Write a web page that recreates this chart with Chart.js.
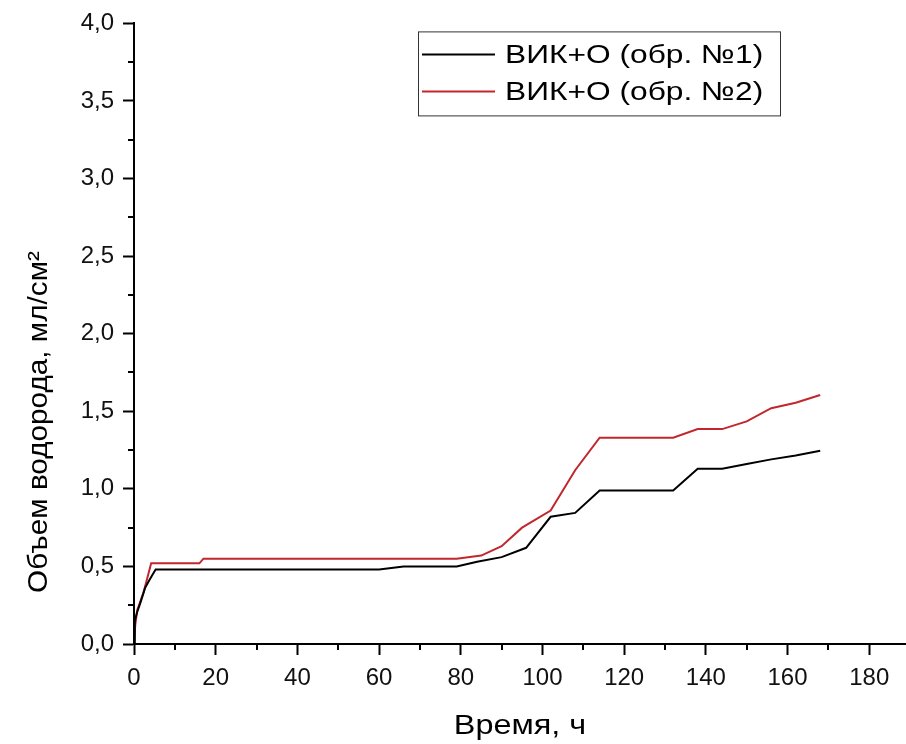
<!DOCTYPE html>
<html>
<head>
<meta charset="utf-8">
<script src="https://cdn.jsdelivr.net/npm/chart.js@4.4.1/dist/chart.umd.min.js"></script>
<style>
  html, body { margin: 0; padding: 0; background: #fff; }
  #wrap { width: 906px; height: 744px; }
</style>
</head>
<body>
<div id="wrap"><canvas id="chart"></canvas></div>
<script>
// sample 1 (black)
const time1 = [0, 0.2, 0.7, 1.5, 2.7, 3.5, 4.6, 5.3, 60, 66, 79, 84, 90, 96, 102, 108, 114, 132, 138, 144, 150, 156, 162, 168];
const volume1 = [0, 0.15, 0.2, 0.26, 0.36, 0.40, 0.45, 0.48, 0.48, 0.50, 0.50, 0.53, 0.56, 0.62, 0.82, 0.845, 0.99, 0.99, 1.13, 1.13, 1.16, 1.19, 1.215, 1.245];

// sample 2 (red)
const time2 = [0, 0.3, 0.8, 2.3, 3.1, 4.2, 16, 17, 79, 85, 90, 95, 102, 108, 114, 132, 138, 144, 150, 156, 162, 168];
const volume2 = [0, 0.12, 0.22, 0.33, 0.41, 0.52, 0.52, 0.55, 0.55, 0.57, 0.63, 0.75, 0.86, 1.12, 1.33, 1.33, 1.385, 1.385, 1.435, 1.52, 1.555, 1.605];

const seriesLabels = ['ВИК+О (обр. №1)', 'ВИК+О (обр. №2)'];
const seriesColors = ['#000000', '#c1272d'];

const xTicks = [0, 20, 40, 60, 80, 100, 120, 140, 160, 180];
const yTicks = [0, 0.5, 1, 1.5, 2, 2.5, 3, 3.5, 4];

const xTitle = 'Время, ч';
const yTitle = 'Объем водорода, мл/см²';

const FONT = '"Liberation Sans", Arial, sans-serif';

const toPoints = (xs, ys) => xs.map((x, i) => ({ x: x, y: ys[i] }));
const midpoints = (t) => t.slice(1).map((v, i) => (v + t[i]) / 2);

// minor ticks, axis titles and the boxed legend
const decor = {
  id: 'decor',
  afterDraw(chart) {
    const ctx = chart.ctx;
    const xs = chart.scales.x;
    const ys = chart.scales.y;
    ctx.save();
    ctx.strokeStyle = '#000';
    ctx.lineWidth = 2;
    midpoints(xTicks).forEach(v => {
      const px = Math.round(xs.getPixelForValue(v));
      ctx.beginPath();
      ctx.moveTo(px, xs.top);
      ctx.lineTo(px, xs.top + 6);
      ctx.stroke();
    });
    midpoints(yTicks).forEach(v => {
      const py = Math.round(ys.getPixelForValue(v));
      ctx.beginPath();
      ctx.moveTo(ys.right, py);
      ctx.lineTo(ys.right - 6, py);
      ctx.stroke();
    });

    ctx.fillStyle = '#000';
    ctx.textBaseline = 'middle';
    ctx.textAlign = 'center';
    ctx.font = '27px ' + FONT;
    ctx.save();
    ctx.translate((xs.left + xs.right) / 2, xs.bottom - 17);
    ctx.scale(1.2, 1);
    ctx.fillText(xTitle, 0, 0);
    ctx.restore();

    ctx.save();
    ctx.translate(40, 422);
    ctx.rotate(-Math.PI / 2);
    ctx.scale(1.1, 1);
    ctx.fillText(yTitle, 0, 0);
    ctx.restore();

    // legend
    const area = chart.chartArea;
    const bx = area.right - 488, by = area.top + 8, bw = 362, bh = 84;
    ctx.strokeStyle = '#333';
    ctx.lineWidth = 1;
    ctx.strokeRect(bx + 0.5, by + 0.5, bw, bh);
    ctx.textAlign = 'left';
    ctx.font = '26px ' + FONT;
    seriesLabels.forEach((label, i) => {
      const ry = by + 23 + i * 37;
      ctx.strokeStyle = seriesColors[i];
      ctx.lineWidth = 2;
      ctx.beginPath();
      ctx.moveTo(bx + 4, ry);
      ctx.lineTo(bx + 77, ry);
      ctx.stroke();
      ctx.save();
      ctx.translate(bx + 87, ry + 1);
      ctx.scale(1.22, 1);
      ctx.fillText(label, 0, 0);
      ctx.restore();
    });
    ctx.restore();
  }
};

const axisCommon = {
  grid: { drawOnChartArea: false, drawTicks: true, tickLength: 11, tickWidth: 2, tickColor: '#000' },
  border: { display: true, color: '#000', width: 2 },
  ticks: { color: '#111', font: { family: FONT, size: 24 }, padding: 9 }
};

new Chart(document.getElementById('chart'), {
  type: 'line',
  data: {
    datasets: [
      { label: seriesLabels[0], data: toPoints(time1, volume1), borderColor: seriesColors[0], backgroundColor: seriesColors[0], borderWidth: 2, pointRadius: 0, tension: 0 },
      { label: seriesLabels[1], data: toPoints(time2, volume2), borderColor: seriesColors[1], backgroundColor: seriesColors[1], borderWidth: 2, pointRadius: 0, tension: 0 }
    ]
  },
  options: {
    responsive: true,
    maintainAspectRatio: false,
    animation: false,
    layout: { padding: { top: 22, right: 0, bottom: 0, left: 0 } },
    plugins: { legend: { display: false }, tooltip: { enabled: false } },
    scales: {
      x: {
        ...axisCommon,
        type: 'linear',
        min: 0,
        max: 189,
        afterBuildTicks: scale => { scale.ticks = xTicks.map(v => ({ value: v })); },
        afterFit: scale => { scale.height = 100; }
      },
      y: {
        ...axisCommon,
        type: 'linear',
        min: 0,
        max: 4,
        ticks: { ...axisCommon.ticks, callback: v => v.toFixed(1).replace('.', ',') },
        afterBuildTicks: scale => { scale.ticks = yTicks.map(v => ({ value: v })); },
        afterFit: scale => { scale.width = 134; }
      }
    }
  },
  plugins: [decor]
});
</script>
</body>
</html>
